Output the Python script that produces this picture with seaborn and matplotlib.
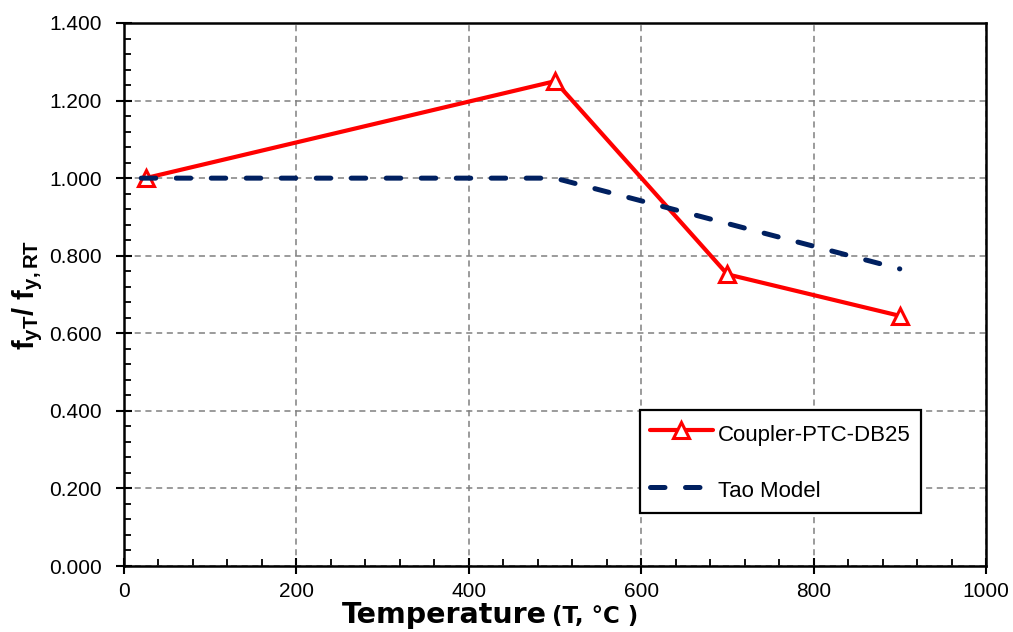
import numpy as np
import pandas as pd
import seaborn as sns
import matplotlib.pyplot as plt
from matplotlib.ticker import MultipleLocator, FormatStrFormatter

# data
test_temp = [25, 500, 700, 900]
test_ratio = [1.000, 1.250, 0.752, 0.645]
tao_temp = [20, 500, 900]
tao_ratio = [1.000, 1.000, 0.766]

test_df = pd.DataFrame({"T": test_temp, "ratio": test_ratio})
tao_df = pd.DataFrame({"T": tao_temp, "ratio": tao_ratio})

sns.set_style("ticks")
plt.rcParams['font.family'] = ['Liberation Sans', 'DejaVu Sans']
plt.rcParams['mathtext.fontset'] = 'custom'
plt.rcParams['mathtext.rm'] = 'Liberation Sans'
plt.rcParams['mathtext.bf'] = 'Liberation Sans:bold'
plt.rcParams['mathtext.it'] = 'Liberation Sans'
plt.rcParams['text.color'] = 'black'
plt.rcParams['axes.labelcolor'] = 'black'

W, H = 1013, 632
fig = plt.figure(figsize=(W / 100, H / 100), dpi=100)
ax = fig.add_axes([124/W, 1 - 566/H, (986 - 124)/W, (566 - 23)/H])

sns.lineplot(data=test_df, x="T", y="ratio", ax=ax, color="#FF0000", lw=3,
             marker="^", markersize=11, markerfacecolor="white",
             markeredgecolor="#FF0000", markeredgewidth=2.2,
             label="Coupler-PTC-DB25")
sns.lineplot(data=tao_df, x="T", y="ratio", ax=ax, color="#002060", lw=3.6,
             linestyle=(0, (2.9, 4.1)), dash_capstyle="round",
             label="Tao Model")

ax.set_xlim(0, 1000)
ax.set_ylim(0, 1.4)
ax.xaxis.set_major_locator(MultipleLocator(200))
ax.xaxis.set_minor_locator(MultipleLocator(40))
ax.yaxis.set_major_locator(MultipleLocator(0.2))
ax.yaxis.set_minor_locator(MultipleLocator(0.04))
ax.yaxis.set_major_formatter(FormatStrFormatter("%.3f"))

ax.grid(True, which="major", color="#808080", linestyle=(0, (4, 3)), lw=1.1)
for s in ax.spines.values():
    s.set_visible(True)
    s.set_color("black")
    s.set_linewidth(1.8)

ax.tick_params(which="major", direction="inout", length=11, width=1.5,
               labelsize=15, colors="black", pad=6)
ax.tick_params(axis="y", which="major", pad=10.5)
ax.tick_params(which="minor", direction="in", length=5, width=1.3,
               colors="black")

ax.set_xlabel("")
ax.set_ylabel(r"$\mathbf{f_{yT}/\ f_{y,RT}}$", fontsize=21)
ax.yaxis.set_label_coords(-0.092, 0.5)

# x label: big bold word plus smaller unit part, same baseline
base_y = 1 - 623 / H
t1 = fig.text(342 / W, base_y, "Temperature", fontsize=20.5,
              fontweight="bold", family="DejaVu Sans", ha="left",
              va="baseline")
bb = t1.get_window_extent(renderer=fig.canvas.get_renderer())
fig.text((bb.x1 + 5) / W, base_y, "(T, °C )", fontsize=16.5,
         fontweight="bold", family="DejaVu Sans", ha="left", va="baseline")

leg = ax.legend(loc="lower left", bbox_to_anchor=(0.599, 0.098), fontsize=16,
                frameon=True, fancybox=False, edgecolor="black",
                handlelength=2.8, handleheight=1.4, labelspacing=1.4,
                borderpad=0.45, handletextpad=0.25, borderaxespad=0)
leg.get_frame().set_linewidth(1.6)
leg.get_frame().set_alpha(1)

fig.savefig("out.png", dpi=100)
